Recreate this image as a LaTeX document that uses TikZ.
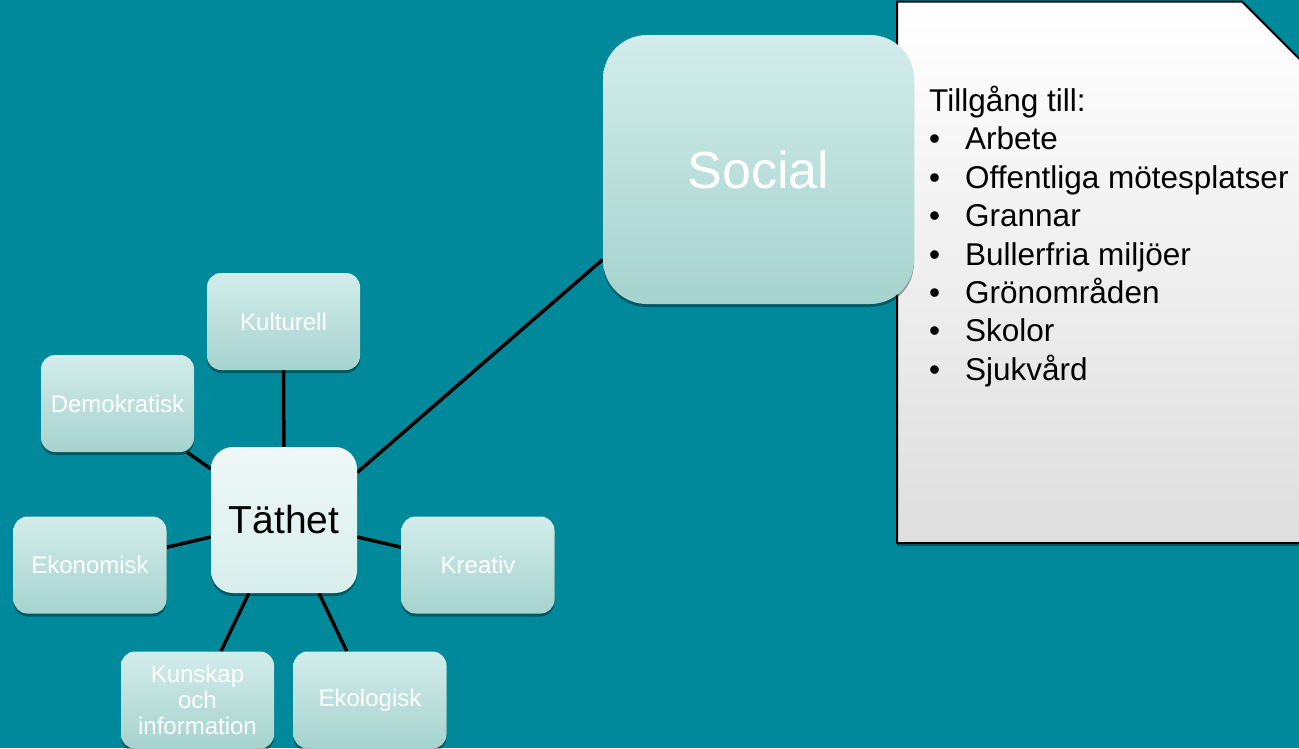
\documentclass[tikz,border=0pt]{standalone}
\usepackage{fontspec}
\setmainfont{Liberation Sans}
\usetikzlibrary{shadows}
\definecolor{bgteal}{RGB}{0,136,155}
\definecolor{boxtop}{RGB}{210,237,235}
\definecolor{boxbot}{RGB}{166,211,206}
\definecolor{ctrtop}{RGB}{238,248,247}
\definecolor{ctrbot}{RGB}{216,239,236}
\definecolor{notebot}{RGB}{222,222,222}
\pgfdeclarelayer{back}
\pgfdeclarelayer{links}
\pgfsetlayers{back,links,main}
\begin{document}
\begin{tikzpicture}[x=1pt,y=-1pt,
  shd/.style={drop shadow={shadow xshift=0pt,shadow yshift=-3pt,opacity=0.35,fill=black}},
  leaf/.style={shd,rounded corners=14pt,top color=boxtop,bottom color=boxbot,
    minimum width=153pt,minimum height=97pt,text=white,
    font=\fontsize{24}{26}\selectfont,align=center,inner sep=0pt},
  hub/.style={shd,rounded corners=22pt,top color=ctrtop,bottom color=ctrbot,
    minimum width=146pt,minimum height=146pt,text=black,
    font=\fontsize{39}{45}\selectfont,inner sep=0pt},
  big/.style={shd,rounded corners=44pt,top color=boxtop,bottom color=boxbot,
    minimum width=311pt,minimum height=269pt,text=white,
    font=\fontsize{52}{60}\selectfont,inner sep=0pt},
  link/.style={line width=3.5pt,black},
  notetext/.style={anchor=base west,inner sep=0pt,font=\fontsize{31.5}{36}\selectfont,text=black},
]
\useasboundingbox (0,0) rectangle (1299,748);
\begin{pgfonlayer}{back}
  \fill[bgteal] (0,0) rectangle (1299,748);
  \path[draw=black,line width=2pt,top color=white,bottom color=notebot,
        drop shadow={shadow xshift=0pt,shadow yshift=-3pt,opacity=0.3,fill=black}]
    (897,1.5) -- (1242,1.5) -- (1360,119.5) -- (1360,543) -- (897,543) -- cycle;
\end{pgfonlayer}

\node[leaf] (kul) at (283.5,321.5) {Kulturell};
\node[leaf] (dem) at (117.5,403.5) {Demokratisk};
\node[leaf] (eko) at (90,565) {Ekonomisk};
\node[leaf] (kre) at (478,565) {Kreativ};
\node[leaf] (kun) at (197.5,700) {Kunskap\\och\\information};
\node[leaf] (ekl) at (370,700) {Ekologisk};
\node[hub] (tat) at (284,520) {Täthet};
\node[big] (soc) at (758.5,169.5) {Social};

\begin{pgfonlayer}{links}
  \draw[link] (tat) -- (kul);
  \draw[link] (tat) -- (dem);
  \draw[link] (tat) -- (eko);
  \draw[link] (tat) -- (kre);
  \draw[link] (tat) -- (kun);
  \draw[link] (tat) -- (ekl);
  \draw[link] (tat.33) -- (soc.210);
\end{pgfonlayer}

\node[notetext] (t0) at (929,111.4) {Tillgång till:};
\foreach \i/\txt in {1/Arbete,2/Offentliga mötesplatser,3/Grannar,4/Bullerfria miljöer,5/Grönområden,6/Skolor,7/Sjukvård}{
  \node[notetext] (b\i) at (929,111.4+38.4*\i) {•};
  \node[notetext] (t\i) at (965,111.4+38.4*\i) {\txt};
}
\end{tikzpicture}
\end{document}
